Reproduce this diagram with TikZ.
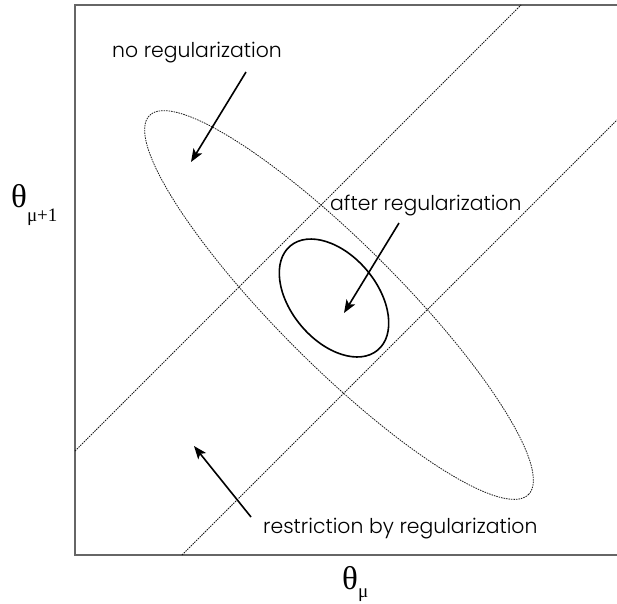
\documentclass[tikz,border=0pt]{standalone}
\usepackage{fontspec}
\setmainfont{Poppins Light}
\newfontfamily\thetafont{Liberation Serif}
\usetikzlibrary{arrows.meta}

\tikzset{
  frame/.style={draw=black!60, line width=1.3pt},
  limit/.style={draw=black!90, line width=0.8pt, dash pattern=on 1.5pt off 1pt},
  pointer/.style={->, >={Stealth[length=13pt,width=10pt,inset=3pt]}, line width=1.6pt},
  caption/.style={anchor=base west, inner sep=0pt, font=\fontsize{20.4}{24}\selectfont},
  axislabel/.style={anchor=base west, inner sep=0pt, font=\thetafont\fontsize{33}{33}\selectfont}
}
\newcommand{\thetasub}[2][-0.45em]{θ\raisebox{#1}{\fontsize{19}{19}\selectfont #2}}

\begin{document}
\begin{tikzpicture}[x=1pt, y=-1pt]
  \useasboundingbox (0,0) rectangle (617,603);
  % frame, open on the right
  \draw[frame] (617,5) -- (75,5) -- (75,555) -- (617,555);

  % bounds set by the regularization
  \coordinate (L1a) at (75,451);
  \coordinate (L1b) at (521,5);
  \coordinate (L2a) at (182,555);
  \coordinate (L2b) at (617,120);
  \draw[limit] (L1a) -- (L1b);
  \draw[limit] (L2a) -- (L2b);

  % contours
  \coordinate (C) at (339,305);
  \coordinate (R) at (334,298);
  \draw[limit, rotate around={-45:(C)}] (C) ellipse [x radius=268pt, y radius=61pt];
  \draw[line width=1.6pt, rotate around={-50:(R)}] (R) ellipse [x radius=68pt, y radius=43pt];

  % labels
  \node[caption] (noreg) at (112,57) {no regularization};
  \node[caption] (afterreg) at (330,210) {after regularization};
  \node[caption] (restrict) at (263,533) {restriction by regularization};
  \node[axislabel] (ylab) at (11,207) {\thetasub{μ+1}};
  \node[axislabel] (xlab) at (342,589) {\thetasub[-0.25em]{μ}};

  % arrows
  \coordinate (noreg-tail) at (246,72);
  \coordinate (noreg-tip) at (191,162);
  \coordinate (after-tail) at (399,223);
  \coordinate (after-tip) at (344,313);
  \coordinate (restrict-tail) at (251,517);
  \coordinate (restrict-tip) at (194,446);
  \draw[pointer] (noreg-tail) -- (noreg-tip);
  \draw[pointer] (after-tail) -- (after-tip);
  \draw[pointer] (restrict-tail) -- (restrict-tip);
\end{tikzpicture}
\end{document}
